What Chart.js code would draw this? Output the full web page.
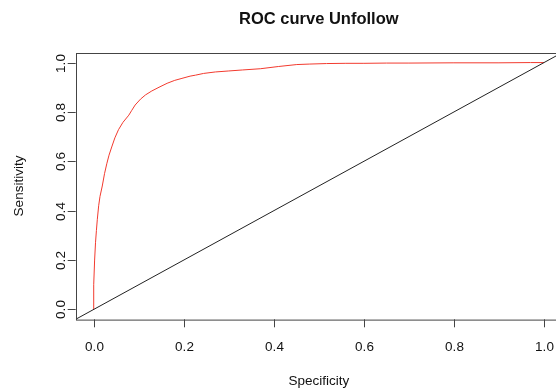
<!DOCTYPE html>
<html>
<head>
<meta charset="utf-8">
<script src="https://cdn.jsdelivr.net/npm/chart.js@4/dist/chart.umd.min.js"></script>
<style>
body{margin:0;background:#fff;overflow:hidden}
#wrap{width:600px;height:389px;position:relative}
</style>
</head>
<body>
<div id="wrap"><canvas id="roc"></canvas></div>
<script>
// roc curve points (x axis = 1 - spec, labelled Specificity)
const fpr = [0, 0, 0.002, 0.004, 0.006, 0.008, 0.011, 0.014, 0.019, 0.024, 0.029, 0.034, 0.04, 0.047,
    0.055, 0.065, 0.078, 0.084, 0.092, 0.104, 0.115, 0.129, 0.145, 0.163, 0.18, 0.196, 0.214, 0.226,
    0.244, 0.27, 0.3, 0.33, 0.37, 0.41, 0.451, 0.48, 0.517, 0.56, 0.6, 0.65, 0.7, 0.8, 0.9, 0.97, 1.0]
const tpr = [0, 0.1, 0.2, 0.27, 0.32, 0.365, 0.42, 0.458, 0.5, 0.55, 0.59, 0.625, 0.658, 0.695,
    0.728, 0.758, 0.787, 0.805, 0.828, 0.852, 0.869, 0.885, 0.9, 0.916, 0.928, 0.936, 0.945, 0.949,
    0.956, 0.962, 0.966, 0.97, 0.975, 0.984, 0.992, 0.994, 0.996, 0.997, 0.997, 0.998, 0.998, 0.999, 0.999, 1.0, 1.0]
const diagX = [-0.04, 1.04]
const diagY = [-0.04, 1.04]
const xTicks = [0, 0.2, 0.4, 0.6, 0.8, 1.0]
const yTicks = [0, 0.2, 0.4, 0.6, 0.8, 1.0]
const titleText = 'ROC curve Unfollow'
const xTitle = 'Specificity'
const yTitle = 'Sensitivity'

function toPoints(xs, ys){
    return xs.map(function(x, i){ return {x: x, y: ys[i]} })
}

// R style box + ticks + labels
const rAxes = {
    id: 'rAxes',
    afterDraw: function(chart){
        var ctx = chart.ctx
        var a = chart.chartArea
        var xs = chart.scales.x, ys = chart.scales.y
        ctx.save()
        ctx.strokeStyle = '#444'
        ctx.lineWidth = 1
        ctx.strokeRect(Math.round(a.left) + 0.5, Math.round(a.top) + 0.5, a.right - a.left, a.bottom - a.top)
        ctx.fillStyle = '#111'
        ctx.font = '13.5px "Liberation Sans", Arial, sans-serif'
        ctx.textAlign = 'center'
        ctx.textBaseline = 'alphabetic'
        xTicks.forEach(function(t){
            var px = Math.round(xs.getPixelForValue(t)) + 0.5
            ctx.beginPath()
            ctx.moveTo(px, a.bottom)
            ctx.lineTo(px, a.bottom + 8)
            ctx.stroke()
            ctx.fillText(t.toFixed(1), px, 351)
        })
        yTicks.forEach(function(t){
            var py = Math.round(ys.getPixelForValue(t)) + 0.5
            ctx.beginPath()
            ctx.moveTo(a.left, py)
            ctx.lineTo(a.left - 8, py)
            ctx.stroke()
            ctx.save()
            ctx.translate(65, py)
            ctx.rotate(-Math.PI / 2)
            ctx.fillText(t.toFixed(1), 0, 0)
            ctx.restore()
        })
        var cx = (a.left + a.right) / 2
        var cy = (a.top + a.bottom) / 2
        ctx.fillText(xTitle, cx, 385)
        ctx.save()
        ctx.translate(23, cy)
        ctx.rotate(-Math.PI / 2)
        ctx.fillText(yTitle, 0, 0)
        ctx.restore()
        ctx.font = 'bold 16.5px "Liberation Sans", Arial, sans-serif'
        ctx.fillText(titleText, cx, 24)
        ctx.restore()
    }
}

new Chart(document.getElementById('roc'), {
    type: 'scatter',
    data: {
        datasets: [
            {
                label: 'chance',
                data: toPoints(diagX, diagY),
                showLine: true,
                borderColor: '#222',
                borderWidth: 1,
                pointRadius: 0,
                tension: 0
            },
            {
                label: 'ROC',
                data: toPoints(fpr, tpr),
                showLine: true,
                borderColor: '#f23a2e',
                borderWidth: 1,
                pointRadius: 0,
                tension: 0
            }
        ]
    },
    options: {
        responsive: true,
        maintainAspectRatio: false,
        animation: false,
        layout: {padding: {left: 75.7, top: 52.7, right: 38, bottom: 69.7}},
        plugins: {legend: {display: false}, tooltip: {enabled: false}},
        scales: {
            x: {type: 'linear', min: -0.04, max: 1.04, display: false},
            y: {type: 'linear', min: -0.04, max: 1.04, display: false}
        }
    },
    plugins: [rAxes]
})
</script>
</body>
</html>
